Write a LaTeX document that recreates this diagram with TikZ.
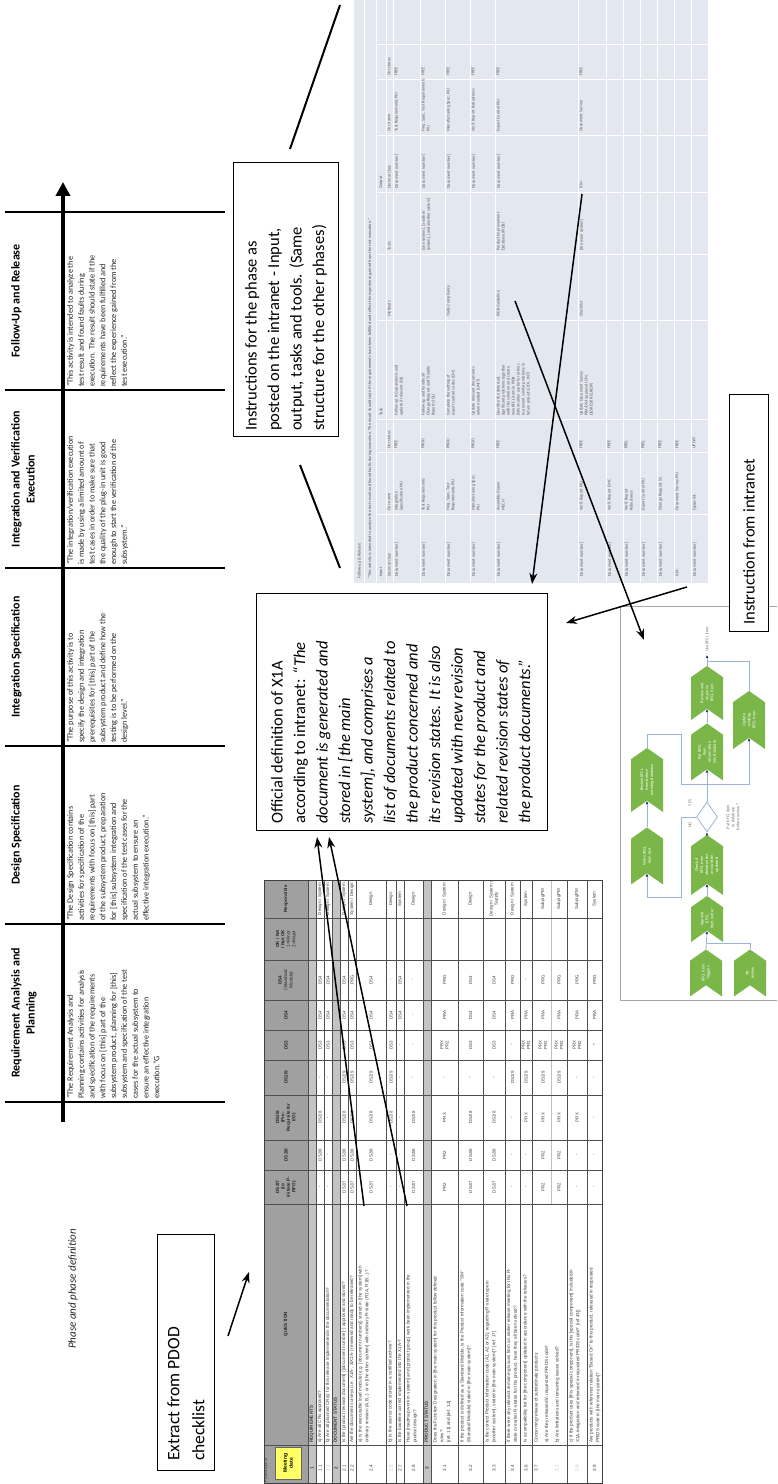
\documentclass[tikz,border=0pt]{standalone}
\usepackage{fontspec}
\setmainfont{Carlito}
\newfontfamily\arialfont{Liberation Sans}
\usetikzlibrary{arrows.meta,shapes.symbols,shapes.geometric}

\definecolor{kfgreen}{HTML}{7AB648}
\definecolor{flowline}{HTML}{9BB3D8}
\definecolor{flowhead}{HTML}{1F3A6E}
\definecolor{shotbg}{HTML}{E3E7F0}
\definecolor{shottext}{HTML}{5A5A5A}
\definecolor{hdrgray}{HTML}{A0A0A0}
\definecolor{secgray}{HTML}{C4C4C4}
\definecolor{memo}{HTML}{FFFF66}
\definecolor{celltext}{HTML}{3F3F3F}
\definecolor{gridgray}{HTML}{505050}

\tikzset{
  phasesep/.style={line width=2.4pt},
  phasehead/.style={font=\bfseries\fontsize{12}{15}\selectfont, align=center, anchor=north, inner sep=0pt},
  phasetext/.style={font=\fontsize{8.2}{10.8}\selectfont, align=left, anchor=north west, inner sep=0pt, text=black!85},
  callout/.style={draw, line width=1.1pt, fill=white, inner sep=0pt},
  callouttext/.style={font=\fontsize{16.5}{22.5}\selectfont, align=left, inner sep=0pt},
  pointer/.style={line width=1.5pt, -{Stealth[length=11pt,width=8pt]}},
  spoke/.style={line width=2pt},
  ckgrid/.style={draw=gridgray, line width=0.7pt},
  cksub/.style={draw=black!25, line width=0.4pt},
  ckframe/.style={draw=black!75, line width=0.9pt},
  ckhead/.style={font=\arialfont\bfseries\fontsize{4.6}{5.4}\selectfont, align=center, inner sep=0pt, text=black!85},
  ckq/.style={font=\arialfont\fontsize{4.6}{6.8}\selectfont, align=left, anchor=north west, inner sep=0pt, text=celltext},
  ckcell/.style={font=\arialfont\fontsize{4.4}{5.2}\selectfont, align=center, inner sep=0pt, text=celltext},
  cknum/.style={font=\arialfont\fontsize{4.6}{5.4}\selectfont, inner sep=0pt, text=celltext},
  shotline/.style={draw=white, line width=0.8pt},
  shottxt/.style={font=\fontsize{4.3}{5}\selectfont, align=left, anchor=north west, inner sep=0pt, text=shottext},
  chev/.style={signal, signal to=east, signal from=west, signal pointer angle=110, fill=kfgreen, text=white, font=\fontsize{4.3}{5}\selectfont, align=center, minimum height=32pt, inner sep=0.5pt},
  flow/.style={draw=flowline, line width=0.8pt},
  flowarrow/.style={flow, -{Latex[length=3pt,width=3pt,color=flowhead]}},
  flowlabel/.style={font=\fontsize{4.3}{5}\selectfont, text=black!55, align=center, inner sep=0pt},
}

% one row of checklist values: key, row centre, list of 8 entries
\newcommand\ckvals[3]{%
  \foreach \v [count=\i] in {#3}{%
    \pgfmathsetmacro\cx{{297,329,366.5,406.5,439,469,504,585}[\i-1]}%
    \node[ckcell] (#1-\i) at (\cx,-#2) {\v};}}
% one row of the intranet task table: key, row top, list of 9 entries
\newcommand\inrow[3]{%
  \foreach \t [count=\i] in {#3}{%
    \pgfmathsetmacro\cx{{907,973,1035,1068,1167,1233,1295,1352,1408}[\i-1]}%
    \node[shottxt] (#1-\i) at (\cx,-#2-1.5) {\t};}}

\begin{document}
\begin{tikzpicture}[x=1pt,y=1pt]
\useasboundingbox (0,0) rectangle (777,1484);
\fill[white] (0,0) rectangle (777,1484);
\clip (0,0) rectangle (777,1484);
\begin{scope}[rotate=90, transform shape]

% ---------------- phases and their definitions ----------------
\foreach \sx in {382,560,738,916,1094,1272} \draw[phasesep] (\sx,-5) -- (\sx,-225);
\coordinate (tl0) at (362,-63);
\coordinate (tl1) at (1302,-63);
\draw[line width=4.2pt, -{Triangle[length=14pt,width=14pt]}] (tl0) -- (tl1);

\node[phasehead] (hreq) at (471,-11) {Requirement Analysis and\\Planning};
\node[phasehead] (hdes) at (649,-11) {Design Specification};
\node[phasehead] (hint) at (827,-11) {Integration Specification};
\node[phasehead] (hver) at (1005,-11) {Integration and Verification\\Execution};
\node[phasehead] (hfol) at (1183,-11) {Follow-Up and Release};

\node[phasetext] (dreq) at (385,-67) {"The Requirement Analysis and\\Planning contains activities for analysis\\and specification of the requirements\\with focus on [this] part of the\\subsystem product, planning for [this]\\subsystem and specification of the test\\cases for the actual subsystem to\\ensure an effective integration\\execution."G};
\node[phasetext] (ddes) at (563,-67) {"The Design Specification contains\\activities for specification of the\\requirements with focus on [this] part\\of the subsystem product, preparation\\for [this] subsystem integration and\\specification of the test cases for the\\actual subsystem to ensure an\\effective integration execution."};
\node[phasetext] (dint) at (741,-67) {"The purpose of this activity is to\\specify the design and integration\\prerequisites for [this] part of the\\subsystem product and define how the\\testing is to be performed on the\\design level."};
\node[phasetext] (dver) at (919,-67) {"The integration/verification execution\\is made by using a limited amount of\\test cases in order to make sure that\\the quality of the plug-in unit is good\\enough to start the verification of the\\subsystem."};
\node[phasetext] (dfol) at (1097,-67) {"This activity is intended to analyze the\\test result and found faults during\\execution. The result should state if the\\requirements have been fulfilled and\\reflect the experience gained from the\\test execution."};

\node[font=\itshape\fontsize{11}{13}\selectfont, inner sep=0pt, text=black!85] (phaselabel) at (195,-73) {Phase and phase definition};

% ---------------- callout boxes ----------------
\node[callout, anchor=north west, minimum width=236pt, minimum height=57pt] (extract) at (13,-157) {};
\node[callouttext, font=\fontsize{17.5}{25}\selectfont, anchor=west] (extracttext) at ([xshift=10pt]extract.west) {Extract from PDOD\\checklist};

\node[callout, anchor=north west, minimum width=274pt, minimum height=105pt] (instr) at (1047,-233) {};
\node[callouttext, anchor=west] (instrtext) at ([xshift=6pt]instr.west) {Instructions for the phase as\\posted on the intranet - Input,\\output, tasks and tools. (Same\\structure for the other phases)};

% ---------------- PDOD checklist ----------------
\fill[hdrgray] (1,-264) rectangle (604,-308);
\foreach \sy/\ey in {308/316,332/340,423/431} \fill[secgray] (1,-\sy) rectangle (604,-\ey);
\foreach \ry in {308,316,324,332,340,348,356,386,396,404,423,431,458,483,505,520,532,567,587}
  \draw[ckgrid] (1,-\ry) -- (604,-\ry);
\draw[cksub] (280,-551) -- (604,-551);
\foreach \cl in {39,280,314,344,389,424,454,484,524,566}
  \draw[ckgrid] (\cl,-264) -- (\cl,-602);
\draw[ckframe] (1,-264) rectangle (604,-602);

\node[font=\arialfont\fontsize{3.5}{4}\selectfont, anchor=north west, inner sep=0.5pt, text=black!80] (ptype) at (1,-264) {Product type id};
\node[fill=memo, draw=black!60, line width=0.3pt, minimum width=32pt, minimum height=26pt, inner sep=0pt, font=\arialfont\bfseries\fontsize{5}{6}\selectfont, align=center] (meet) at (21,-288) {Meeting\\date};
\node[ckhead] (hq) at (160,-286) {QUESTION};
\node[ckhead] (h1) at (297,-286) {DS2/7\\(to\\initiate P-\\RFO)};
\node[ckhead] (h2) at (329,-286) {DS2/8};
\node[ckhead] (h3) at (366.5,-286) {DS2/8\\(Pre-\\Requisite for\\EO)};
\node[ckhead] (h4) at (406.5,-286) {DS2/9};
\node[ckhead] (h5) at (439,-286) {DS3};
\node[ckhead] (h6) at (469,-286) {DS4};
\node[ckhead] (h7) at (504,-286) {DS4\\\mdseries(Standard\\\mdseries Module)};
\node[ckhead] (h8) at (545,-286) {OK / NA\\/ Not OK\\\mdseries 1=Minor\\\mdseries 2=Major};
\node[ckhead] (h9) at (585,-286) {Responsible};

% row numbers
\node[cknum, font=\arialfont\bfseries\fontsize{4.6}{5.4}\selectfont] (n1) at (16,-312) {1};
\node[cknum] (n11) at (16,-320) {1.1};
\node[cknum, text=black!25] (n12) at (16,-328) {1.2};
\node[cknum, font=\arialfont\bfseries\fontsize{4.6}{5.4}\selectfont] (n2) at (16,-336) {2};
\node[cknum] (n21) at (16,-344) {2.1};
\node[cknum] (n22) at (16,-352) {2.2};
\node[cknum] (n24) at (16,-371) {2.4};
\node[cknum, text=black!25] (n25) at (16,-391) {2.5};
\node[cknum] (n27) at (16,-400) {2.7};
\node[cknum] (n28) at (16,-413.5) {2.8};
\node[cknum, font=\arialfont\bfseries\fontsize{4.6}{5.4}\selectfont] (n3) at (16,-427) {3};
\node[cknum] (n31) at (16,-444.5) {3.1};
\node[cknum] (n32) at (16,-470.5) {3.2};
\node[cknum] (n33) at (16,-494) {3.3};
\node[cknum] (n34) at (16,-512.5) {3.4};
\node[cknum] (n36) at (16,-526) {3.6};
\node[cknum] (n37) at (16,-536) {3.7};
\node[cknum, text=black!25] (n37b) at (16,-557) {3.7};
\node[cknum, text=black!25] (n38) at (16,-577) {3.8};
\node[cknum] (n39) at (16,-594.5) {3.9};

% questions
\node[ckq, font=\arialfont\bfseries\fontsize{4.6}{6.8}\selectfont] (s1) at (41,-309.5) {REQUIREMENTS};
\node[ckq] (q11) at (41,-317.5) {a) Are all CRs approved?};
\node[ckq] (q12) at (41,-325.5) {b) Are all planned CR(s) for this release implemented in the documentation?};
\node[ckq, font=\arialfont\bfseries\fontsize{4.6}{6.8}\selectfont] (s2) at (41,-333.5) {DOCUMENT STATUS};
\node[ckq] (q21) at (41,-341.5) {Is the [product revision document] ([document number]-) approved and stored?};
\node[ckq] (q22) at (41,-349.5) {Are the document surveys (i.e. X1A-, 3/X1A-) reviewed and ready to be released?};
\node[ckq] (q24) at (41,-358) {a) Is the executable load module (e.g. [document numbers]) stored in [the system] with\\ordinary revision (A,B,..) or in [the other system] with ordinary R-state (R1A, R1B,..)?};
\node[ckq] (q25) at (41,-388) {b) Is the source code stored in a certified archive?};
\node[ckq] (q27) at (41,-397.5) {Is the baseline correct implemented into the X1A-?};
\node[ckq] (q28) at (41,-406) {Have [roadmap work in system] and [product group] work been implemented in the\\product design?};
\node[ckq, font=\arialfont\bfseries\fontsize{4.6}{6.8}\selectfont] (s3) at (41,-424.5) {PRODUCT STATUS};
\node[ckq] (q31) at (41,-433) {Does the Function Designation in [the main system] for this product follow defined\\rules?\\{}[ref. 11] and [ref. 12]};
\node[ckq] (q32) at (41,-460) {If the product is defined as a Standard Module, is the Product information code "SM"\\(Standard Module) stated in [the main system]?};
\node[ckq] (q33) at (41,-485) {Is the correct Product information code (A1, A2 or A3), regarding R-state type in\\{}[another system], stated in [the main system]? [ref. 17]};
\node[ckq] (q34) at (41,-506.5) {If there were any relevant remaining issues from an earlier release meeting for this R-\\state or earlier R-states for this product, have they all been solved?};
\node[ckq] (q36) at (41,-523) {Is a compatibility list for [the component] updated in accordance with the releases?};
\node[ckq, font=\arialfont\fontsize{4.6}{10.5}\selectfont] (q37) at (41,-534) {Concerning release of subordinate products:\\a) Are they released in requested PR/DS code?\\b) Are limitations and remaining issues solved?};
\node[ckq] (q37c) at (41,-569) {c) If the product uses [this special component], is this [special component] included in\\X1A-integration and released in requested PR/DS code? [ref 43])};
\node[ckq] (q39) at (41,-589) {Are products with reference relation "Based On" to this product, released in requested\\PR/DS code in [the main system]?};

% values per row
\ckvals{v11}{320}{-,DS2/8,DS2/8,-,DS3,DS4,DS4,Design / System}
\ckvals{v12}{328}{-,-,-,-,DS3,DS4,DS4,Design / System}
\ckvals{v21}{344}{DS2/7,DS2/8,DS2/8,DS2/9,DS3,DS4,DS4,Design / System}
\ckvals{v22}{352}{DS2/7,DS2/8,DS2/8,DS2/9,DS3,DS4,PRG,System / Design}
\ckvals{v24}{371}{DS2/7,DS2/8,DS2/8,DS2/9,DS3,DS4,DS4,Design}
\ckvals{v25}{391}{-,-,DS2/8,DS2/9,DS3,DS4,-,Design}
\ckvals{v27}{400}{-,-,-,-,-,DS4,DS4,System}
\ckvals{v28}{413.5}{DS2/7,DS2/8,DS2/8,-,-,-,-,Design}
\ckvals{v31}{444.5}{PR2,PR2,PRX,-,PRX\\PR2,PRA,PRG,Design / System}
\ckvals{v32}{470.5}{DS2/7,DS2/8,DS2/8,-,DS3,DS4,DS4,Design}
\ckvals{v33}{494}{DS2/7,DS2/8,DS2/8,-,DS3,DS4,DS4,Design / System /\\Supply}
\ckvals{v34}{512.5}{-,-,-,DS2/9,-,PRA,PRG,Design / System}
\ckvals{v36}{526}{-,-,PRX,DS2/9,PRX\\PR2,PRA,-,System}
\ckvals{v37a}{543}{PR2,PR2,PRX,DS2/9,PRX\\PR2,PRA,PRG,SubprgPM}
\ckvals{v37b}{559}{PR2,PR2,PRX,DS2/9,PRX\\PR2,PRA,PRG,SubprgPM}
\ckvals{v37c}{577}{-,-,PRX,-,PRX\\PR2,PRA,PRG,SubprgPM}
\ckvals{v39}{594.5}{-,-,-,-,*,PRA,PRG,System}

% ---------------- intranet task table ----------------
\fill[shotbg] (901,-354) rectangle (1484,-708);
\foreach \ry in {364,376,386,393,420,445,470,495,578,606,623,640,657,674,691}
  \draw[shotline] (901,-\ry) -- (1484,-\ry);
\foreach \cl in {970,1032,1065,1164,1230,1292,1349,1405,1440}
  \draw[shotline] (\cl,-376) -- (\cl,-708);
\node[shottxt, anchor=west] (shtitle) at (905,-359.5) {Follow-up \& Release};
\node[shottxt, anchor=west] (shdesc) at (905,-370) {"This activity is intended to analyze the test result and found faults during execution. The result should state if the requirements have been fulfilled and reflect the experience gained from the test execution."};
\node[shottxt, anchor=west] (shin) at (907,-381) {Input};
\node[shottxt, anchor=west] (shtask) at (1068,-381) {Task};
\node[shottxt, anchor=west] (shout) at (1295,-381) {Output};
\inrow{ih}{386}{Decimal class,Doc name,Doc status,{},Methods,Tools,Decimal class,Doc name,Doc status}
\inrow{i1}{393}{Document number],{Integration\\Specification PIU},FREE,{Follow up X-Gap analysis and\\update if relevant (OL)},{},{},Document number],Test Requirements PIU,FREE}
\inrow{i2}{420}{Document number],{Test Requirements\\PIU},PROD,{Follow up and handle all\\Change Request and Trouble\\Reports (OL)},{},{[one system], [another\\system], [and another system]},Document number],{Freq. Spec. Test Requirements\\PIU},FREE}
\inrow{i3}{445}{Document number],{Freq. Spec. Test\\Requirements PIU},PROD,{Complete the setting of\\export control codes (CM)},Trade Compliance,{},Document number],Manufacturing Spec. PIU,FREE}
\inrow{i4}{470}{Document number],{Manufacturing Spec.\\PIU},PROD,{Update relevant documents\\when needed (UNIT)},{},{},Document number],Verif. Report Robustness,FREE}
\inrow{i5}{495}{Document number],{Assembly Drawn\\MECH},FREE,{Describe the detected,\\significant problems together\\with the solution and create\\new KFCL item in PIDB\\(information useful for others\\to prevent similar problems in\\future projects) (OL, INT)},PIDB Guideline,{Product Improvement\\Database (PIDB)},Document number],Export Control PIU,FREE}
\inrow{i6}{578}{Document number],Verif. Report PIU,FREE,{Update Document Survey\\PRA/DS4 approval (CM,\\DESRESP, RELRESP)},Checklist,{[the main system]},X1A-,Document Survey,FREE}
\inrow{i7}{606}{Document number],Verif. Report EMC,FREE}
\inrow{i8}{623}{Document number],{Verif. Report\\Robustness},PREL}
\inrow{i9}{640}{Document number],Export Control PIU,PREL}
\inrow{i10}{657}{Document number],Change Request SS,FREE}
\inrow{i11}{674}{X1A-,Document Survey PIU,FREE}
\inrow{i12}{691}{Document number],Fgaps list,UPDAT}

% ---------------- KFCL flow ----------------
\draw[draw=black!35, line width=0.6pt] (484,-800) -- (484,-620) -- (878,-620) -- (878,-800);
\node[chev, minimum width=47pt] (trig) at (511,-706) {KFCL item\\Triggers};
\node[chev, minimum width=47pt] (trrev) at (511,-750) {TR\\review};
\node[chev, minimum width=46pt] (appoint) at (565,-707) {Appoint\\KFCL\\item writer};
\node[chev, minimum width=60pt] (check) at (619,-707) {Check if\\KFCL item\\already exist\\or could be\\updated};
\node[diamond, draw=flowline, line width=0.8pt, fill=white, minimum width=30pt, minimum height=21pt, inner sep=0pt] (dec) at (667,-707) {};
\node[chev, minimum width=57pt] (write) at (628,-647) {Write KFCL\\item text};
\node[chev, minimum width=64pt] (revb) at (704,-647) {Review KFCL\\item before\\entering database};
\node[chev, minimum width=57pt] (put) at (732,-707) {Put KFCL\\item\\information\\into database};
\node[chev, minimum width=54pt] (revi) at (791,-707) {Review and\\improve\\KFCL item};
\node[chev, minimum width=58pt] (upd) at (764,-749) {Update\\existing\\KFCL item};

\coordinate (jtr) at (541,-707);
\coordinate (jno1) at (667,-681);
\coordinate (jno2) at (587,-681);
\coordinate (jrv1) at (750,-647);
\coordinate (jrv2) at (750,-681);
\coordinate (jrv3) at (700,-681);
\coordinate (jrv4) at (700,-749);
\coordinate (useend) at (829,-707);
\coordinate (jup) at (823,-707);

\draw[flowarrow] (trig.east) -- (appoint.west);
\draw[flow] (trrev.east) -| (jtr);
\draw[flowarrow] (appoint.east) -- (check.west);
\draw[flowarrow] (check.east) -- (dec.west);
\draw[flowarrow] (dec.north) -- (jno1) -- (jno2) |- (write.west);
\draw[flowarrow] (write.east) -- (revb.west);
\draw[flowarrow] (revb.east) -- (jrv1) -- (jrv2) -- (jrv3) -- (jrv4) -- (upd.west);
\draw[flowarrow] (dec.east) -- (put.west);
\draw[flowarrow] (put.east) -- (revi.west);
\draw[flowarrow] (revi.east) -- (useend);
\draw[flow] (upd.east) -| (jup);

\node[flowlabel] (nolab) at (659,-690) {NO};
\node[flowlabel] (yeslab) at (681,-690) {YES};
\node[flowlabel] (declab) at (667,-733) {Put KFCL item\\in database\\before review?};
\node[flowlabel, anchor=west] (uselab) at (832,-707) {Use KFCL item};

% ---------------- remaining callouts ----------------
\node[callout, anchor=north west, minimum width=237pt, minimum height=291pt] (official) at (653,-256) {};
\node[callouttext, anchor=west] (officialtext) at ([xshift=7pt]official.west) {Official definition of X1A\\according to intranet: \itshape “The\\\itshape document is generated and\\\itshape stored in [the main\\\itshape system], and comprises a\\\itshape list of documents related to\\\itshape the product concerned and\\\itshape its revision states. It is also\\\itshape updated with new revision\\\itshape states for the product and\\\itshape related revision states of\\\itshape the product documents.”};

\node[callout, anchor=north west, minimum width=237pt, minimum height=39pt] (intranet) at (852,-729) {};
\node[callouttext, anchor=west] (intranettext) at ([xshift=7pt]intranet.west) {Instruction from intranet};

% ---------------- pointers ----------------
\coordinate (p1s) at (278,-364); \coordinate (p1e) at (647,-317);
\coordinate (p2s) at (278,-407); \coordinate (p2e) at (647,-329);
\coordinate (p3s) at (1290,-582); \coordinate (p3e) at (900,-532);
\coordinate (p4s) at (1183,-515); \coordinate (p4e) at (844,-644);
\coordinate (p5s) at (897,-687); \coordinate (p5e) at (861,-566);
\coordinate (p6s) at (148,-228); \coordinate (p6e) at (212,-249);
\draw[pointer] (p1s) -- (p1e);
\draw[pointer] (p2s) -- (p2e);
\draw[pointer] (p3s) -- (p3e);
\draw[pointer] (p4s) -- (p4e);
\draw[pointer] (p5s) -- (p5e);
\draw[pointer] (p6s) -- (p6e);

\coordinate (m1a) at (1479,-340); \coordinate (m1b) at (1335,-290);
\coordinate (m2a) at (1019,-300); \coordinate (m2b) at (916,-340);
\draw[spoke] (m1a) -- (m1b);
\draw[spoke] (m2a) -- (m2b);

\end{scope}
\end{tikzpicture}
\end{document}
